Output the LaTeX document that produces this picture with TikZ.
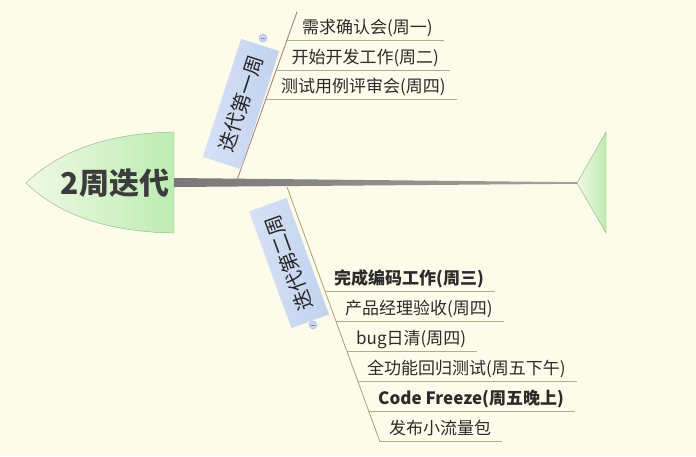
\documentclass[tikz,border=0pt]{standalone}
\usepackage{fontspec}
\setmainfont{Noto Sans CJK SC}
\definecolor{paper}{HTML}{FDFBE9}
\definecolor{headlight}{HTML}{EFF9E4}
\definecolor{headgreen}{HTML}{BDECB2}
\definecolor{headline}{HTML}{8DAF89}
\definecolor{headtext}{HTML}{3C3C3C}
\definecolor{spinedark}{HTML}{787878}
\definecolor{spinelight}{HTML}{A3A39B}
\definecolor{boneone}{HTML}{A87868}
\definecolor{bonetwo}{HTML}{A8A276}
\definecolor{subtan}{HTML}{B7AC8A}
\definecolor{boxlight}{HTML}{D6E1F5}
\definecolor{boxdark}{HTML}{C2D2EF}
\definecolor{togglefill}{HTML}{C9D5F2}
\definecolor{toggleline}{HTML}{A3B4DC}
\definecolor{togglebar}{HTML}{6F86C0}
\definecolor{tasktext}{HTML}{2B2B2B}
\begin{document}
\begin{tikzpicture}[
		x=1pt, y=-1pt,
		every node/.style={inner sep=0pt, text=tasktext},
		title/.style={font=\fontsize{30}{30}\selectfont\bfseries, text=headtext},
		weekbox/.style={left color=boxlight, right color=boxdark, minimum width=124pt, minimum height=40pt, font=\fontsize{20}{20}\selectfont, text=black!85},
		task/.style={anchor=base west, inner xsep=11pt, font=\fontsize{17}{17}\selectfont},
		boldtask/.style={task, font=\fontsize{17}{17}\selectfont\bfseries},
		toggle/.style={circle, draw=toggleline, fill=togglefill, minimum size=8pt},
		subline/.style={draw=subtan, line width=0.8pt}
	]
	\fill[paper] (0,0) rectangle (696,456);
	\useasboundingbox (0,0) rectangle (696,456);
	\shade[draw=headline, left color=headlight, right color=headgreen] (26,183) .. controls (60,150) and (110,133) .. (174,132) -- (174,233) .. controls (110,232) and (60,216) .. (26,183) -- cycle;
	\shade[draw=headline, left color=headlight, right color=headgreen] (577,183) -- (606,132) -- (606,233) -- cycle;
	\coordinate (sl) at (174,182.5);
	\coordinate (sr) at (577,183);
	\shade[left color=spinedark, right color=spinelight] ([yshift=4.5pt]sl) -- ([yshift=0.8pt]sr) -- ([yshift=-0.8pt]sr) -- ([yshift=-4.5pt]sl) -- cycle;
	\node[title] (head) at (115,183.5) {2周迭代};
	\coordinate (u0) at (237,180);
	\coordinate (u1) at (297,12);
	\coordinate (l0) at (287,187);
	\coordinate (l1) at (380,442);
	\draw[boneone, line width=0.8pt] (u0) -- (u1);
	\draw[bonetwo, line width=0.8pt] (l0) -- (l1);
	\node[weekbox, rotate=72] (w1) at (241,104) {迭代第一周};
	\node[weekbox, rotate=110] (w2) at (289,263) {迭代第二周};
	\node[toggle] (m1) at (263,38) {};
	\draw[togglebar] ([xshift=-2pt]m1.center) -- ([xshift=2pt]m1.center);
	\node[toggle] (m2) at (313,325) {};
	\draw[togglebar] ([xshift=-2pt]m2.center) -- ([xshift=2pt]m2.center);
	\coordinate (a1) at (287,40);
	\coordinate (a2) at (276.3,70);
	\coordinate (a3) at (265.9,99);
	\node[task] (t1) at (291,33) {需求确认会(周一)};
	\node[task] (t2) at (280.3,63) {开始开发工作(周二)};
	\node[task] (t3) at (269.9,92) {测试用例评审会(周四)};
	\draw[subline] (a1) -- (a1 -| t1.east);
	\draw[subline] (a2) -- (a2 -| t2.east);
	\draw[subline] (a3) -- (a3 -| t3.east);
	\coordinate (b1) at (324.9,291);
	\coordinate (b2) at (335.9,321);
	\coordinate (b3) at (346.8,351);
	\coordinate (b4) at (357.8,381);
	\coordinate (b5) at (368.7,411);
	\coordinate (b6) at (379.6,441);
	\node[boldtask] (s1) at (323,284) {完成编码工作(周三)};
	\node[task] (s2) at (334,314) {产品经理验收(周四)};
	\node[task] (s3) at (345,344) {bug日清(周四)};
	\node[task] (s4) at (356,374) {全功能回归测试(周五下午)};
	\node[boldtask] (s5) at (367,404) {Code Freeze(周五晚上)};
	\node[task] (s6) at (378,434) {发布小流量包};
	\foreach \i in {1,...,6}
		\draw[subline] (b\i) -- (b\i -| s\i.east);
\end{tikzpicture}
\end{document}
